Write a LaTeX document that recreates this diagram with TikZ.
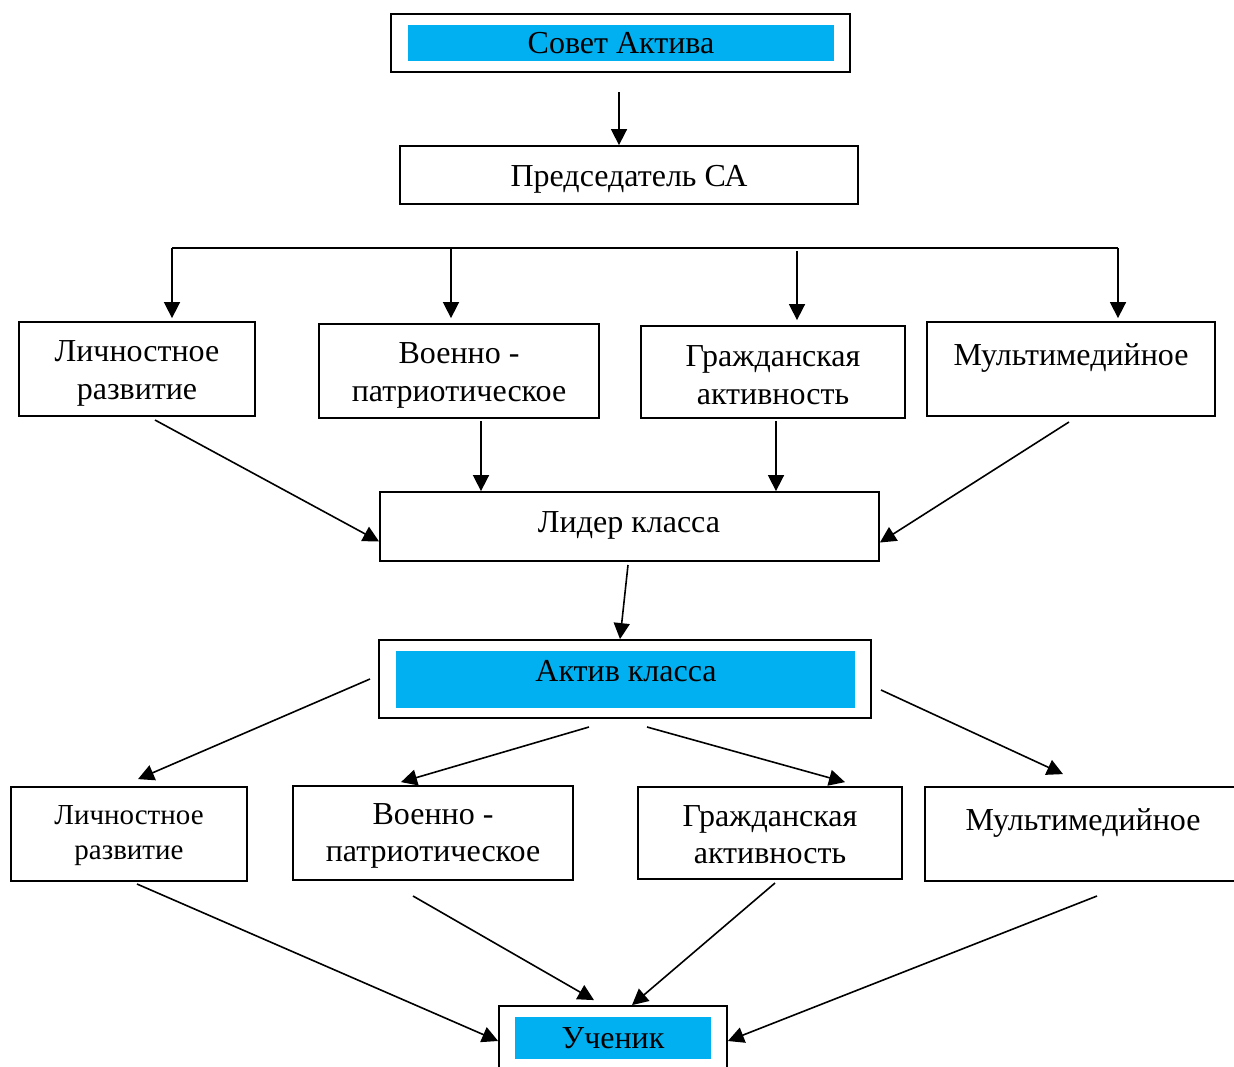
\documentclass[tikz,border=0pt]{standalone}
\usepackage{fontspec}
\setmainfont{Liberation Serif}
\usetikzlibrary{arrows.meta,calc}
\definecolor{skyb}{HTML}{00B0F0}
\tikzset{
  box/.style={draw, line width=1.8pt, rectangle, inner sep=0pt},
  bluebox/.style={fill=skyb, rectangle, inner sep=0pt},
  txt/.style={inner sep=0pt, align=center, font=\fontsize{32}{38}\selectfont},
  txtb/.style={inner sep=0pt, align=center, font=\fontsize{32}{37}\selectfont},
  arr/.style={line width=1.6pt, -{Triangle[width=16pt,length=16pt]}},
  ln/.style={line width=1.6pt}
}
\begin{document}
\begin{tikzpicture}[x=1pt,y=-1pt]
\useasboundingbox (0,0) rectangle (1234,1066);
\clip (0,0) rectangle (1234,1066);
\fill[white] (0,0) rectangle (1234,1066);

% top
\node[box, minimum width=459pt, minimum height=58pt] (sovet) at (620.5,43) {};
\node[bluebox, minimum width=426pt, minimum height=36pt] (sovetin) at (621,43) {};
\node[txt] (sovett) at (sovetin.center) {Совет Актива};
\node[box, minimum width=458pt, minimum height=58pt] (pred) at (629,175) {};
\node[txt, yshift=-4pt] (predt) at (pred.center) {Председатель СА};

\coordinate (a1) at (619,92);
\draw[arr] (a1) -- (a1 |- pred.north);

% row 2
\node[box, minimum width=236pt, minimum height=94pt] (lich1) at (137,369) {};
\node[box, minimum width=280pt, minimum height=94pt] (voen1) at (459,371) {};
\node[box, minimum width=264pt, minimum height=92pt] (grazh1) at (773,372) {};
\node[box, minimum width=288pt, minimum height=94pt] (mult1) at (1071,369) {};
\node[txt, yshift=-4pt] (lich1t) at (lich1.center) {Личностное\\развитие};
\node[txt, yshift=-4pt] (voen1t) at (voen1.center) {Военно -\\патриотическое};
\node[txt, yshift=-3pt] (grazh1t) at (grazh1.center) {Гражданская\\активность};
\node[txt, yshift=11pt] (mult1t) at (mult1.center) {Мультимедийное};

\coordinate (hl) at (172,248);
\coordinate (hr) at (1118,248);
\coordinate (h2) at (451,248);
\coordinate (h3) at (797,251);
\draw[ln] (hl) -- (hr);
\draw[arr] (hl) -- ($(hl |- lich1.north)+(0,-3)$);
\draw[arr] (h2) -- ($(h2 |- voen1.north)+(0,-5)$);
\draw[arr] (h3) -- ($(h3 |- grazh1.north)+(0,-5)$);
\draw[arr] (hr) -- ($(hr |- mult1.north)+(0,-3)$);

% leader
\node[box, minimum width=499pt, minimum height=69pt] (leader) at (629.5,526.5) {};
\node[txt] (leadert) at (629,525) {Лидер класса};

\coordinate (l1) at (155,420);
\coordinate (l2) at (481,421);
\coordinate (l3) at (776,421);
\coordinate (l4) at (1069,422);
\draw[arr] (l1) -- ($(leader.west)+(0,15)$);
\draw[arr] (l2) -- (l2 |- leader.north);
\draw[arr] (l3) -- (l3 |- leader.north);
\draw[arr] (l4) -- ($(leader.east)+(0,16)$);

% aktiv
\node[box, minimum width=492pt, minimum height=78pt] (aktiv) at (625,679) {};
\node[bluebox, minimum width=459pt, minimum height=57pt] (aktivin) at (625.5,679.5) {};
\node[txt] (aktivt) at (626,671) {Актив класса};

\coordinate (ld) at (628,565);
\draw[arr] (ld) -- ($(aktiv.north)+(-5,0)$);

% row 3
\node[box, minimum width=236pt, minimum height=94pt] (lich2) at (129,834) {};
\node[box, minimum width=280pt, minimum height=94pt] (voen2) at (433,833) {};
\node[box, minimum width=264pt, minimum height=92pt] (grazh2) at (770,833) {};
\node[box, minimum width=320pt, minimum height=94pt] (mult2) at (1085,834) {};
\node[txt, font=\fontsize{29}{35}\selectfont, yshift=-2pt] (lich2t) at (lich2.center) {Личностное\\развитие};
\node[txtb, yshift=-3pt] (voen2t) at (voen2.center) {Военно -\\патриотическое};
\node[txtb, yshift=-2pt] (grazh2t) at (grazh2.center) {Гражданская\\активность};
\node[txt, yshift=11pt] (mult2t) at ($(mult2.center)+(-2,0)$) {Мультимедийное};

\coordinate (k1) at (370,679);
\coordinate (k2) at (589,727);
\coordinate (k3) at (647,727);
\coordinate (k4) at (881,690);
\draw[arr] (k1) -- ($(lich2.north)+(9,-7)$);
\draw[arr] (k2) -- ($(voen2.north)+(-32,-3)$);
\draw[arr] (k3) -- ($(grazh2.north)+(75,-4)$);
\draw[arr] (k4) -- ($(mult2.north)+(-22,-12)$);

% uchenik
\node[box, minimum width=228pt, minimum height=74pt] (uch) at (613,1043) {};
\node[bluebox, minimum width=196pt, minimum height=42pt] (uchin) at (613,1038) {};
\node[txt] (ucht) at (uchin.center) {Ученик};

\coordinate (u1) at (137,884);
\coordinate (u2) at (413,896);
\coordinate (u3) at (775,883);
\coordinate (u4) at (1097,896);
\draw[arr] (u1) -- ($(uch.west)+(0,-2)$);
\draw[arr] (u2) -- ($(uch.north)+(-19,-5)$);
\draw[arr] (u3) -- ($(uch.north)+(19,0)$);
\draw[arr] (u4) -- ($(uch.east)+(0,-2)$);
\end{tikzpicture}
\end{document}
